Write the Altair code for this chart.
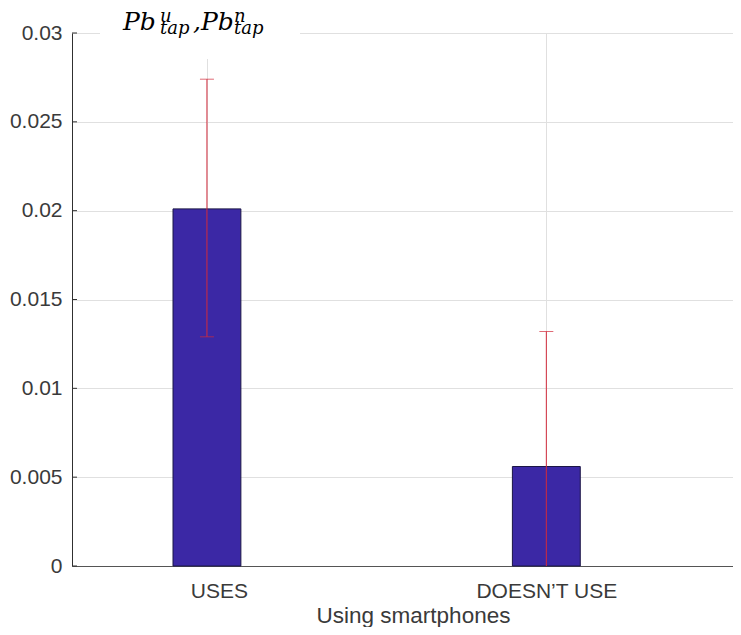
import altair as alt
import pandas as pd

# ---- data ----
categories = ["USES", "DOESN’T USE"]
positions = [1, 2]
means = [0.0201, 0.0056]
err_low = [0.0129, 0.0]
err_high = [0.0274, 0.0132]
y_ticks = [0, 0.005, 0.01, 0.015, 0.02, 0.025, 0.03]

BAR_HALF = 0.1
df = pd.DataFrame({"cat": categories, "pos": positions, "mean": means,
                   "low": err_low, "high": err_high})
df["x0"] = df["pos"] - BAR_HALF
df["x1"] = df["pos"] + BAR_HALF
ticks_df = pd.DataFrame({"t": y_ticks})

FONT = "Liberation Sans"
TXT = "#3a3a3a"
GRID = "#e0e0e0"
RED = "#d22b3b"
BAR = "#3b28a5"

xscale = alt.Scale(domain=[0.6024, 2.55], nice=False, zero=False)
yscale = alt.Scale(domain=[0, 0.03], nice=False)

label_expr = " : ".join(
    [f"datum.value == {p} ? '{c}'" for p, c in zip(positions[:-1], categories[:-1])]
    + [f"'{categories[-1]}'"]
)

xaxis = alt.Axis(values=positions, labelExpr=label_expr, grid=True, gridColor=GRID,
                 domainColor="#555555", domainWidth=1.2, tickSize=0, labelFont=FONT,
                 labelFontSize=21, labelColor=TXT, labelPadding=14,
                 labelOffset={"condition": {"test": "datum.value == 1", "value": 12}, "value": 0},
                 title="Using smartphones", titleFont=FONT, titleFontSize=22.5,
                 titleFontWeight="normal", titleColor=TXT, titleX=341, titleY=56,
                 titleBaseline="alphabetic")
yaxis = alt.Axis(values=y_ticks, format="~g", grid=True, gridColor=GRID,
                 domainColor="#303030", domainWidth=1, tickSize=0, labelFont=FONT,
                 labelFontSize=21, labelColor=TXT, labelPadding=10, title=None)

base = alt.Chart(df)

bars = base.mark_rect(fill=BAR, stroke="#1b1646", strokeWidth=1).encode(
    x=alt.X("x0:Q", scale=xscale, axis=xaxis),
    x2="x1:Q",
    y=alt.Y("mean:Q", scale=yscale, axis=yaxis),
    y2=alt.datum(0),
)

err = base.mark_rule(color=RED, strokeWidth=1).encode(
    x=alt.X("pos:Q", scale=xscale), y=alt.Y("low:Q", scale=yscale), y2="high:Q")

cap_hi = base.mark_tick(color=RED, thickness=1, size=14, orient="horizontal").encode(
    x=alt.X("pos:Q", scale=xscale), y=alt.Y("high:Q", scale=yscale))
cap_lo = base.transform_filter("datum.low > 0").mark_tick(
    color=RED, thickness=1, size=14, orient="horizontal").encode(
    x=alt.X("pos:Q", scale=xscale), y=alt.Y("low:Q", scale=yscale))

inticks = alt.Chart(ticks_df).mark_rule(color="#303030", strokeWidth=1).encode(
    y=alt.Y("t:Q", scale=yscale), x=alt.value(0), x2=alt.value(5))

one = alt.Data(values=[{}])
box = alt.Chart(one).mark_rect(color="white").encode(
    x=alt.value(28), x2=alt.value(228), y=alt.value(-25), y2=alt.value(26))


def piece(text, px, py, size):
    return alt.Chart(one).mark_text(
        text=text, font="DejaVu Serif", fontStyle="italic", fontSize=size,
        align="left", baseline="alphabetic", color="black").encode(
        x=alt.value(px), y=alt.value(py))


title_parts = [
    piece("Pb", 51, -3, 25), piece("u", 88, -11, 18), piece("tap", 88, 1, 18),
    piece(",", 121, -3, 25),
    piece("Pb", 129, -3, 25), piece("n", 162, -11, 18), piece("tap", 162, 1, 18),
]

chart = alt.layer(bars, err, cap_hi, cap_lo, inticks, box, *title_parts).properties(
    width=661, height=533,
    autosize=alt.AutoSizeParams(type="none"),
    padding={"left": 64, "top": 25, "right": 0, "bottom": 61},
    background="white",
).configure_view(stroke=None)

chart.save("out.html", embed_options={"renderer": "svg", "actions": False})
